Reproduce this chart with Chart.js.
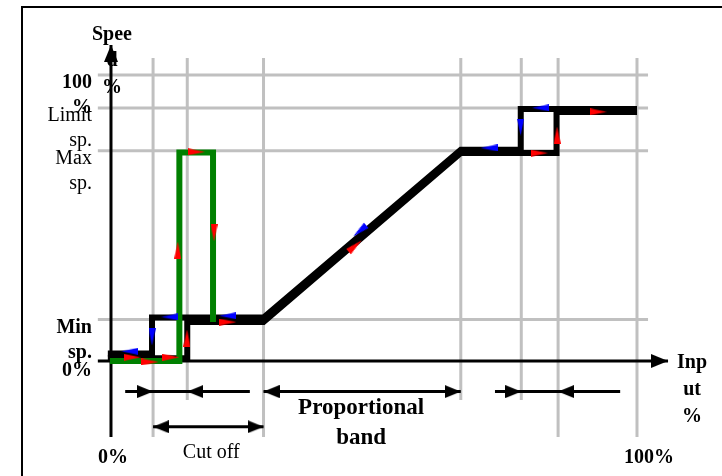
<!DOCTYPE html>
<html>
<head>
<meta charset="utf-8">
<title>Speed against input</title>
<script src="https://cdn.jsdelivr.net/npm/chart.js@4.4.1/dist/chart.umd.min.js"></script>
<style>
	html, body { margin: 0; padding: 0; background: #ffffff; }
	#wrap { width: 722px; height: 476px; }
</style>
</head>
<body>
<div id="wrap"><canvas id="speedChart" width="722" height="476"></canvas></div>
<script>
// Grid positions (input %, speed %)
var inputGrid = [8, 14.5, 29, 66.5, 78, 85, 100];
var inputGridShort = [false, true, false, true, true, false, false];
var speedGrid = [100, 88.5, 73.5, 14.5];

// Tick labels
var speedTicks = [100, 88.5, 73.5, 14.5, 0];
var speedTickText = [["100", "%"], ["Limit", "sp."], ["Max", "sp."], ["Min", "sp."], ["0%"]];
var speedTickBold = [true, false, false, true, true];
var inputTicks = [0, 100];
var inputTickText = ["0%", "100%"];

// Speed when input rises (black, red arrows)
var riseX = [-0.6, 14.5, 14.5, 29, 66.5, 84.7, 84.7, 100];
var riseY = [1.0, 1.0, 13.6, 13.6, 72.7, 72.7, 87.1, 87.1];

// Speed when input falls (black, blue arrows)
var fallX = [100, 77.9, 77.9, 66.5, 29, 7.8, 7.8, -0.6];
var fallY = [88.1, 88.1, 73.9, 73.9, 15.2, 15.2, 2.6, 2.6];

// Cut off kick (green)
var kickX = [-0.2, 13, 13, 19.4, 19.4];
var kickY = [0, 0, 72.9, 72.9, 13.6];

// Direction markers
var riseMarkX = [4.0, 7.4, 11.4, 14.45, 22.2, 12.7, 16.2, 19.6, 46.4, 81.4, 84.8, 92.6];
var riseMarkY = [1.3, -0.35, 1.3, 8.0, 13.6, 38.8, 73.1, 44.8, 40.2, 72.7, 79.0, 87.1];
var riseMarkDir = [90, 90, 90, 0, 90, 0, 90, 180, 49.5, 90, 0, 90];
var fallMarkX = [3.6, 7.8, 11.2, 22.2, 47.3, 71.9, 77.9, 81.7];
var fallMarkY = [3.4, 8.4, 15.4, 15.8, 45.5, 74.5, 81.8, 88.5];
var fallMarkDir = [270, 180, 270, 270, 229.5, 270, 180, 270];

// Ranges marked below the axis
var lowHystX = [2.7, 8, 14.5, 26.4];
var lowHystHead = [null, 90, 270, null];
var bandX = [29, 66.5];
var bandHead = [270, 90];
var highHystX = [73, 78, 85, 96.8];
var highHystHead = [null, 90, 270, null];
var cutOffX = [8, 29];
var cutOffHead = [270, 90];

// Layout (chart units)
var X_MIN = -21.1, X_MAX = 116.16;
var Y_MIN = -40.21, Y_MAX = 126.22;
var GRID_TOP = 105.9, GRID_BOTTOM = -26.6, GRID_BOTTOM_SHORT = -13.6;
var GRID_LEFT = -2.5, GRID_RIGHT = 102.1;
var Y_AXIS_TOP = 110.5, X_AXIS_END = 105.9;
var ROW1 = -10.7, ROW2 = -23.0;

var SERIF = '"Liberation Serif", "Times New Roman", serif';

// Small filled triangle pointing up. With tipAtCentre the tip sits on the point itself
function makeHead(color, w, len, tipAtCentre) {
	var c = document.createElement("canvas");
	var top = tipAtCentre ? len : 0;
	c.width = w;
	c.height = tipAtCentre ? len * 2 : len;
	var g = c.getContext("2d");
	g.fillStyle = color;
	g.beginPath();
	g.moveTo(w / 2, top);
	g.lineTo(w, top + len);
	g.lineTo(0, top + len);
	g.closePath();
	g.fill();
	return c;
}

var redMark = makeHead("#ff0000", 7, 17, false);
var blueMark = makeHead("#0000ff", 7, 17, false);
var axisHead = makeHead("#000000", 14, 17, true);
var rangeHead = makeHead("#000000", 13, 16, true);

function toPoints(xs, ys) {
	return xs.map(function (x, i) { return { x: x, y: ys[i] }; });
}

function pathSet(xs, ys, color, width, order) {
	return {
		data: toPoints(xs, ys),
		showLine: true,
		borderColor: color,
		borderWidth: width,
		borderJoinStyle: "miter",
		borderCapStyle: "butt",
		pointRadius: 0,
		fill: false,
		tension: 0,
		order: order
	};
}

function markSet(xs, ys, dirs, img) {
	return {
		data: toPoints(xs, ys),
		showLine: false,
		pointStyle: img,
		pointRadius: 5,
		pointRotation: dirs,
		order: 0
	};
}

// Line with arrow heads on some of its points
function rangeSet(xs, y, heads) {
	var ds = pathSet(xs, xs.map(function () { return y; }), "#000000", 3, 3);
	ds.pointStyle = rangeHead;
	ds.pointRadius = heads.map(function (h) { return h === null ? 0 : 5; });
	ds.pointRotation = heads.map(function (h) { return h === null ? 0 : h; });
	return ds;
}

var datasets = [];

// Grid
inputGrid.forEach(function (v, i) {
	datasets.push(pathSet([v, v], [GRID_TOP, inputGridShort[i] ? GRID_BOTTOM_SHORT : GRID_BOTTOM], "#c0c0c0", 3, 5));
});
speedGrid.forEach(function (v) {
	datasets.push(pathSet([GRID_LEFT, GRID_RIGHT], [v, v], "#c0c0c0", 3, 5));
});

// Axes
var yAxis = pathSet([0, 0], [GRID_BOTTOM, Y_AXIS_TOP], "#000000", 3, 4);
yAxis.pointStyle = axisHead; yAxis.pointRadius = [0, 5]; yAxis.pointRotation = [0, 0];
var xAxis = pathSet([GRID_LEFT, X_AXIS_END], [0, 0], "#000000", 3, 4);
xAxis.pointStyle = axisHead; xAxis.pointRadius = [0, 5]; xAxis.pointRotation = [0, 90];
datasets.push(yAxis, xAxis);

// Range marks
datasets.push(rangeSet(lowHystX, ROW1, lowHystHead));
datasets.push(rangeSet(bandX, ROW1, bandHead));
datasets.push(rangeSet(highHystX, ROW1, highHystHead));
datasets.push(rangeSet(cutOffX, ROW2, cutOffHead));

// Curves
datasets.push(pathSet(riseX, riseY, "#000000", 6, 2));
datasets.push(pathSet(fallX, fallY, "#000000", 6, 2));
datasets.push(pathSet(kickX, kickY, "#008000", 6, 1));

// Direction markers
datasets.push(markSet(riseMarkX, riseMarkY, riseMarkDir, redMark));
datasets.push(markSet(fallMarkX, fallMarkY, fallMarkDir, blueMark));

function drawLines(ctx, lines, x, y, lh, font, align) {
	ctx.font = font;
	ctx.textAlign = align;
	ctx.textBaseline = "alphabetic";
	ctx.fillStyle = "#000000";
	for (var i = 0; i < lines.length; i++) {
		ctx.fillText(lines[i], x, y + i * lh);
	}
}

// Texts and frame
var textPlugin = {
	id: "texts",
	beforeDraw: function (chart) {
		var ctx = chart.ctx;
		ctx.save();
		ctx.strokeStyle = "#000000";
		ctx.lineWidth = 2;
		ctx.strokeRect(22, 7, 800, 600);
		ctx.restore();
	},
	beforeDatasetsDraw: function (chart) {
		var ctx = chart.ctx;
		var sx = chart.scales.x, sy = chart.scales.y;
		var x0 = sx.getPixelForValue(0), y0 = sy.getPixelForValue(0);
		ctx.save();

		for (var i = 0; i < speedTicks.length; i++) {
			var f = (speedTickBold[i] ? "bold " : "") + "20px " + SERIF;
			var extra = speedTicks[i] === 0 ? 2 : 0;
			drawLines(ctx, speedTickText[i], x0 - 19, sy.getPixelForValue(speedTicks[i]) + 13 + extra, 25, f, "right");
		}
		for (var j = 0; j < inputTicks.length; j++) {
			drawLines(ctx, [inputTickText[j]], sx.getPixelForValue(inputTicks[j]) - 13, y0 + 102, 0, "bold 20px " + SERIF, "left");
		}

		// axis titles
		drawLines(ctx, ["Spee", "d", "%"], x0 + 1, sy.getPixelForValue(Y_AXIS_TOP) - 5, 26.5, "bold 20px " + SERIF, "center");
		drawLines(ctx, ["Inp", "ut", "%"], sx.getPixelForValue(X_AXIS_END) + 24, y0 + 7, 27, "bold 20px " + SERIF, "center");

		// range names
		drawLines(ctx, ["Proportional", "band"], sx.getPixelForValue((bandX[0] + bandX[1]) / 2) - 1, sy.getPixelForValue(ROW1) + 22, 30, "bold 23px " + SERIF, "center");
		drawLines(ctx, ["Cut off"], sx.getPixelForValue((cutOffX[0] + cutOffX[1]) / 2) + 3, sy.getPixelForValue(ROW2) + 31, 0, "20px " + SERIF, "center");

		ctx.restore();
	}
};

var ctx = document.getElementById("speedChart").getContext("2d");
var speedChart = new Chart(ctx, {
	type: "scatter",
	data: { datasets: datasets },
	options: {
		responsive: false,
		animation: false,
		events: [],
		layout: { padding: 0, autoPadding: false },
		plugins: {
			legend: { display: false },
			tooltip: { enabled: false }
		},
		scales: {
			x: { type: "linear", display: false, min: X_MIN, max: X_MAX },
			y: { type: "linear", display: false, min: Y_MIN, max: Y_MAX }
		}
	},
	plugins: [textPlugin]
});
</script>
</body>
</html>
